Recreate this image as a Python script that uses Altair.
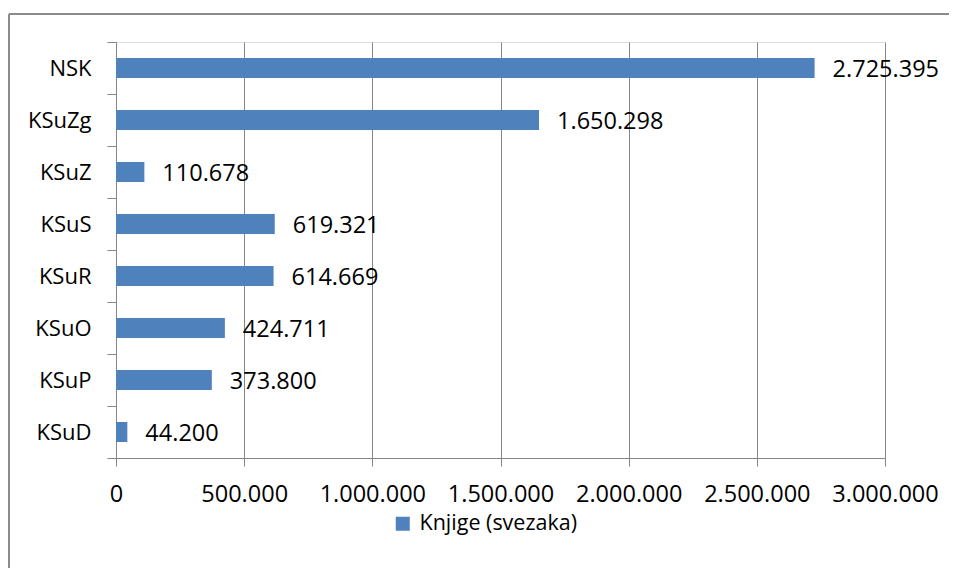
import altair as alt
import pandas as pd

categories = ["NSK", "KSuZg", "KSuZ", "KSuS", "KSuR", "KSuO", "KSuP", "KSuD"]
values = [2725395, 1650298, 110678, 619321, 614669, 424711, 373800, 44200]
series_name = "Knjige (svezaka)"
x_ticks = [0, 500000, 1000000, 1500000, 2000000, 2500000, 3000000]

def fmt(v):
    return f"{v:,}".replace(",", ".")

df = pd.DataFrame({
    "cat": categories,
    "val": values,
    "label": [fmt(v) for v in values],
    "series": [series_name] * len(values),
})

FONT = "Open Sans"
GRID = "#868686"

y_enc = alt.Y("cat:N", sort=categories,
              scale=alt.Scale(paddingInner=0, paddingOuter=0),
              axis=alt.Axis(title=None, grid=False, domain=True, domainColor=GRID,
                            ticks=True, tickColor=GRID, tickSize=9, tickBand="extent",
                            labelFont=FONT, labelFontSize=22, labelColor="#000000",
                            labelPadding=16))
x_enc = alt.X("val:Q", scale=alt.Scale(domain=[0, 3000000], nice=False),
              axis=alt.Axis(title=None, values=x_ticks, grid=True, gridColor=GRID,
                            domainColor=GRID, tickColor=GRID, tickSize=8,
                            labelFont=FONT, labelFontSize=23.5, labelColor="#000000",
                            labelPadding=16, labelOverlap=False, labelFlush=False,
                            labelBound=False,
                            labelExpr="replace(replace(format(datum.value, ','), ',', '.'), ',', '.')"))

bars = alt.Chart(df).mark_bar(size=20).encode(
    y=y_enc,
    x=x_enc,
    color=alt.Color("series:N",
                    scale=alt.Scale(domain=[series_name], range=["#4f81bd"]),
                    legend=alt.Legend(title=None, orient="none", legendX=276, legendY=471,
                                      symbolType="square", symbolSize=196,
                                      symbolStrokeWidth=0, labelLimit=400,
                                      labelFont=FONT, labelFontSize=21.5,
                                      labelColor="#000000", labelOffset=6)),
)

texts = alt.Chart(df).mark_text(align="left", baseline="middle", dx=18, dy=2,
                                font=FONT, fontSize=23.5, color="#000000").encode(
    y=alt.Y("cat:N", sort=categories),
    x=alt.X("val:Q"),
    text="label:N",
)

border_data = alt.Data(values=[{"a": 1}])
left_line = alt.Chart(border_data).mark_rule(color="#8c8c8c", strokeWidth=2).encode(
    x=alt.value(-107), y=alt.value(-28), y2=alt.value(600))
top_line = alt.Chart(border_data).mark_rule(color="#8c8c8c", strokeWidth=2).encode(
    x=alt.value(-107), x2=alt.value(833), y=alt.value(-28))

chart = alt.layer(bars, texts, left_line, top_line).properties(
    width=769, height=416,
    autosize=alt.AutoSizeParams(type="none"),
    padding={"left": 108, "top": 34, "right": 64, "bottom": 110},
).configure_view(stroke=None).configure(background="white")

chart.save("out.html", embed_options={"renderer": "svg", "actions": False})
